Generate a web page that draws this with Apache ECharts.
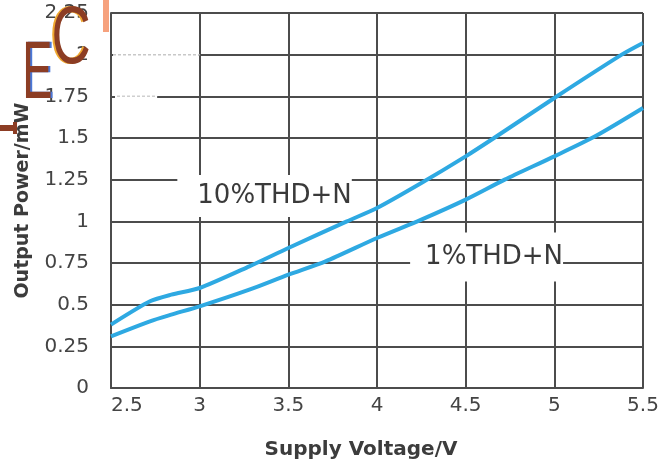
<!DOCTYPE html>
<html>
<head>
<meta charset="utf-8">
<script src="https://cdn.jsdelivr.net/npm/echarts@6/dist/echarts.min.js"></script>
<style>
  html, body { margin: 0; padding: 0; background: #ffffff; }
  #chart { width: 671px; height: 465px; }
</style>
</head>
<body>
<div id="chart"></div>
<script>
// Output power versus supply voltage at two distortion levels
const voltTicks = [2.5, 3, 3.5, 4, 4.5, 5, 5.5];
const powerTicks = [0, 0.25, 0.5, 0.75, 1, 1.25, 1.5, 1.75, 2, 2.25];

const thd10Volt  = [2.5, 2.72, 2.84, 3.0, 3.28, 3.5, 3.83, 4.0, 4.25, 4.5, 4.66, 5.0, 5.38, 5.5];
const thd10Power = [0.38, 0.52, 0.56, 0.60, 0.73, 0.84, 1.00, 1.08, 1.23, 1.39, 1.50, 1.74, 2.00, 2.07];

const thd1Volt  = [2.5, 2.72, 2.84, 3.0, 3.28, 3.5, 3.71, 4.0, 4.25, 4.5, 4.72, 5.0, 5.23, 5.5];
const thd1Power = [0.31, 0.40, 0.44, 0.49, 0.59, 0.68, 0.76, 0.90, 1.01, 1.13, 1.25, 1.39, 1.51, 1.68];

const seriesNames = ['10%THD+N', '1%THD+N'];

const pairs = (xs, ys) => xs.map((x, i) => [x, ys[i]]);

const GRID = '#4c4c4c';
const CURVE = '#2ea9e2';
const TEXT = '#444444';

const chart = echarts.init(document.getElementById('chart'), null, { renderer: 'canvas' });

function curveLabel(text, coord, padding) {
  return {
    symbol: 'rect',
    symbolSize: 0,
    silent: true,
    data: [{ coord: coord, value: text }],
    label: {
      show: true,
      position: 'inside',
      formatter: text,
      color: '#3a3a3a',
      fontFamily: 'DejaVu Sans',
      fontSize: 26,
      backgroundColor: '#ffffff',
      padding: padding
    }
  };
}

chart.setOption({
  backgroundColor: '#ffffff',
  animation: false,
  grid: { left: 111, right: 28, top: 13, bottom: 77, containLabel: false },
  xAxis: {
    type: 'value',
    min: voltTicks[0],
    max: voltTicks[voltTicks.length - 1],
    interval: voltTicks[1] - voltTicks[0],
    name: 'Supply Voltage/V',
    nameLocation: 'middle',
    nameGap: 52,
    nameTextStyle: { fontFamily: 'DejaVu Sans', fontWeight: 'bold', fontSize: 20, color: '#3c3c3c', padding: [0, 32, 0, 0] },
    axisLine: { show: true, lineStyle: { color: GRID, width: 2 } },
    axisTick: { show: false },
    axisLabel: { margin: 8, fontFamily: 'DejaVu Sans', fontSize: 20, color: TEXT, alignMinLabel: 'left' },
    splitLine: { show: true, lineStyle: { color: GRID, width: 2 } }
  },
  yAxis: {
    type: 'value',
    min: powerTicks[0],
    max: powerTicks[powerTicks.length - 1],
    interval: powerTicks[1] - powerTicks[0],
    name: 'Output Power/mW',
    nameLocation: 'middle',
    nameGap: 78,
    nameTextStyle: { fontFamily: 'DejaVu Sans', fontWeight: 'bold', fontSize: 19, color: '#3c3c3c' },
    axisLine: { show: true, lineStyle: { color: GRID, width: 2 } },
    axisTick: { show: false },
    axisLabel: { margin: 22, fontFamily: 'DejaVu Sans', fontSize: 20, color: TEXT },
    splitLine: { show: true, lineStyle: { color: GRID, width: 2 } }
  },
  series: [
    {
      name: seriesNames[0],
      type: 'line',
      data: pairs(thd10Volt, thd10Power),
      smooth: 0.25,
      showSymbol: false,
      lineStyle: { color: CURVE, width: 4 },
      z: 3,
      markPoint: curveLabel(seriesNames[0], [3.366, 1.152], [10, 0, 6, 20])
    },
    {
      name: seriesNames[1],
      type: 'line',
      data: pairs(thd1Volt, thd1Power),
      smooth: 0.25,
      showSymbol: false,
      lineStyle: { color: CURVE, width: 4 },
      z: 3,
      markPoint: curveLabel(seriesNames[1], [4.618, 0.786], [15, 0, 8, 15])
    }
  ]
});

// Cleared corner cell with faint dashed remnants, plus the "EC" stamp
const p00 = chart.convertToPixel({ gridIndex: 0 }, [2.5, 2.25]);
const p11 = chart.convertToPixel({ gridIndex: 0 }, [3, 2]);
const p175 = chart.convertToPixel({ gridIndex: 0 }, [2.76, 1.75]);

chart.setOption({
  graphic: [
    { type: 'rect', shape: { x: p00[0] + 2, y: p00[1] + 2, width: p11[0] - p00[0] - 3, height: p11[1] - p00[1] + 1 }, style: { fill: '#ffffff' }, z: 50, silent: true },
    { type: 'line', shape: { x1: p00[0] + 2, y1: p11[1], x2: p11[0], y2: p11[1] }, style: { stroke: '#c8c8c8', lineWidth: 1.5, lineDash: [3, 2] }, z: 51, silent: true },
    { type: 'rect', shape: { x: p00[0] + 4, y: p175[1] - 3, width: p175[0] - p00[0] - 4, height: 6 }, style: { fill: '#ffffff' }, z: 50, silent: true },
    { type: 'line', shape: { x1: p00[0] + 6, y1: p175[1], x2: p175[0], y2: p175[1] }, style: { stroke: '#cfcfcf', lineWidth: 1.5, lineDash: [3, 2] }, z: 51, silent: true },
    { type: 'rect', shape: { x: 103, y: 0, width: 6, height: 32 }, style: { fill: '#f6a27e' }, z: 60, silent: true },
    { type: 'rect', shape: { x: 0, y: 125, width: 17, height: 6 }, style: { fill: '#8c3d24' }, z: 60, silent: true },
    { type: 'rect', shape: { x: 13, y: 122, width: 4, height: 12 }, style: { fill: '#8c3d24' }, z: 60, silent: true },
    { type: 'text', x: 39.5, y: 76, scaleX: 0.56, z: 60, silent: true,
      style: { text: 'E', font: '81px "Liberation Sans"', fill: '#4a78d8', align: 'center', verticalAlign: 'middle' } },
    { type: 'text', x: 37.5, y: 76, scaleX: 0.56, z: 61, silent: true,
      style: { text: 'E', font: '81px "Liberation Sans"', fill: '#8c3d24', align: 'center', verticalAlign: 'middle' } },
    { type: 'text', x: 69, y: 41, scaleX: 0.67, z: 60, silent: true,
      style: { text: 'C', font: '81px "Liberation Sans"', fill: '#f0a830', align: 'center', verticalAlign: 'middle' } },
    { type: 'text', x: 71, y: 41, scaleX: 0.67, z: 61, silent: true,
      style: { text: 'C', font: '81px "Liberation Sans"', fill: '#8c3d24', align: 'center', verticalAlign: 'middle' } }
  ]
});
</script>
</body>
</html>
